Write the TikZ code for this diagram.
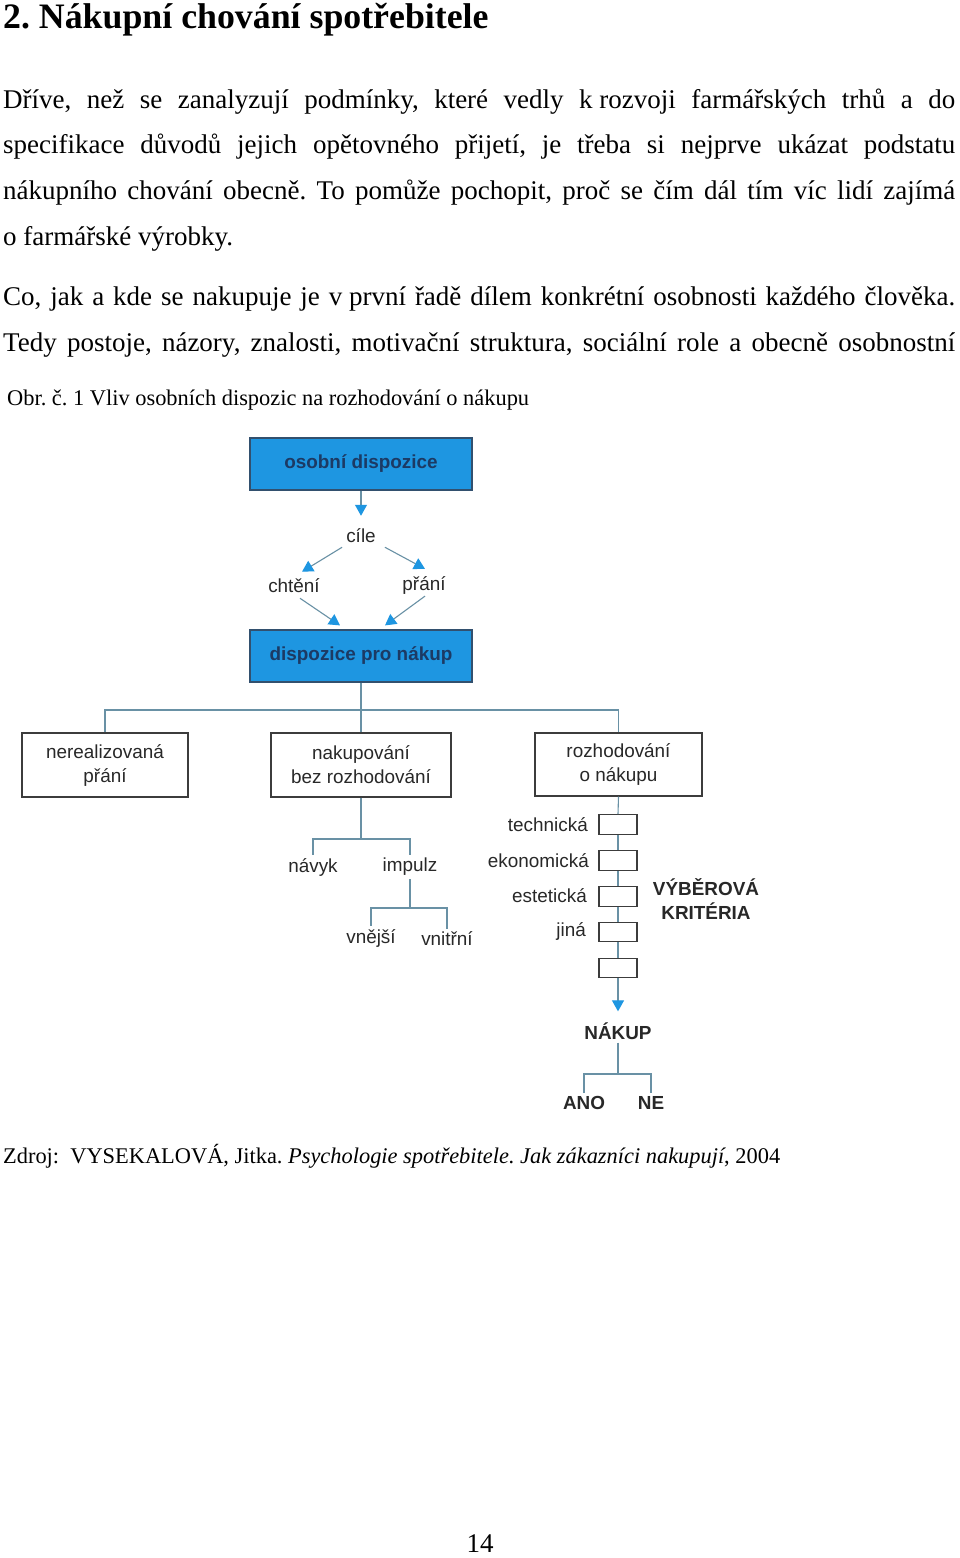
\documentclass[tikz,border=0pt]{standalone}
\usepackage{fontspec}
\setmainfont{Liberation Serif}
\newfontfamily\dg{Liberation Sans}
\usetikzlibrary{arrows.meta,calc}
\definecolor{boxblue}{RGB}{30,150,225}
\definecolor{navytext}{RGB}{28,58,100}
\definecolor{connc}{RGB}{105,145,165}
\definecolor{dtext}{RGB}{40,40,40}
\definecolor{bframe}{RGB}{60,60,60}
\definecolor{bbframe}{RGB}{50,80,110}
\frenchspacing
\begin{document}
\begin{tikzpicture}[x=1pt,y=-1pt,
  txt/.style={anchor=base west,inner sep=0pt,text=black},
  body/.style={txt,font=\fontsize{27}{30}\selectfont},
  small/.style={txt,font=\fontsize{22.4}{26}\selectfont},
  bluebox/.style={draw=bbframe,line width=1.2pt,fill=boxblue,minimum width=222pt,minimum height=52pt,inner sep=0pt,
    font=\dg\bfseries\fontsize{18.9}{22}\selectfont,text=navytext},
  whitebox/.style={draw=bframe,line width=1.2pt,fill=white,minimum height=64pt,inner sep=0pt,align=center,
    font=\dg\fontsize{18.9}{24}\selectfont,text=dtext},
  critbox/.style={draw=bframe,line width=1.2pt,fill=white,minimum width=38pt,minimum height=19.5pt,inner sep=0pt},
  lbl/.style={inner sep=3pt,font=\dg\fontsize{18.9}{22}\selectfont,text=dtext},
  blbl/.style={inner sep=3pt,font=\dg\bfseries\fontsize{18.9}{24}\selectfont,text=dtext,align=center},
  conn/.style={draw=connc,line width=1.1pt},
  arr/.style={-{Triangle[length=11pt,width=12pt,color=boxblue]}},
]
\useasboundingbox[fill=white] (0,0) rectangle (960,1558);

% ---- text of the page ----
\node[txt,font=\fontsize{35.8}{40}\selectfont\bfseries] (title) at (3,28) {2. Nákupní chování spotřebitele};
\node[body] (p1a) at (3,108) {\makebox[952pt][s]{Dříve, než se zanalyzují podmínky, které vedly k\hspace{0.25em}rozvoji farmářských trhů a do}};
\node[body] (p1b) at (3,153.5) {\makebox[952pt][s]{specifikace důvodů jejich opětovného přijetí, je třeba si nejprve ukázat podstatu}};
\node[body] (p1c) at (3,199) {\makebox[952pt][s]{nákupního chování obecně. To pomůže pochopit, proč se čím dál tím víc lidí zajímá}};
\node[body] (p1d) at (3,245) {o\hspace{0.25em}farmářské výrobky.};
\node[body] (p2a) at (3,305) {\makebox[952pt][s]{Co, jak a kde se nakupuje je v\hspace{0.25em}první řadě dílem konkrétní osobnosti každého člověka.}};
\node[body] (p2b) at (3,351) {\makebox[952pt][s]{Tedy postoje, názory, znalosti, motivační struktura, sociální role a obecně osobnostní}};
\node[small] (cap) at (7,405) {Obr. č. 1 Vliv osobních dispozic na rozhodování o nákupu};
\node[small] (src) at (3,1163) {Zdroj:\ \ VYSEKALOVÁ, Jitka. \textit{Psychologie spotřebitele. Jak zákazníci nakupují}, 2004};
\node[body,anchor=base] (pg) at (480,1552) {14};

% ---- diagram ----
\node[bluebox] (od) at (361,464) {osobní dispozice};
\node[lbl] (cile) at (361,536) {cíle};
\node[lbl] (chteni) at (294,586) {chtění};
\node[lbl] (prani) at (424,585) {přání};
\node[bluebox] (dpn) at (361,656) {dispozice pro nákup};

\draw[conn,arr,shorten >=10pt] (od.south) -- (cile.north);
\draw[conn,arr] ($(cile.south west)+(-1,1)$) -- ($(chteni.north)+(8,-4)$);
\draw[conn,arr] ($(cile.south east)+(6,1)$) -- ($(prani.north)+(1,-4)$);
\draw[conn,arr] ($(chteni.south)+(6,2)$) -- ($(dpn.north)+(-21,-4)$);
\draw[conn,arr] ($(prani.south)+(1,-1)$) -- ($(dpn.north)+(24,-4)$);

\node[whitebox,minimum width=166pt] (ner) at (105,765) {nerealizovaná\\přání};
\node[whitebox,minimum width=180pt] (nak) at (361,765) {nakupování\\bez rozhodování};
\node[whitebox,minimum width=167pt,minimum height=63pt] (roz) at (618.5,764.5) {rozhodování\\o nákupu};

\coordinate (j1) at (361,710);
\draw[conn] (dpn.south) -- (j1);
\draw[conn] (ner.north) |- (j1);
\draw[conn] (nak.north) -- (j1);
\draw[conn] (roz.north) |- (j1);

\node[lbl] (navyk) at (313,867) {návyk};
\node[lbl] (impulz) at (410,867) {impulz};
\node[lbl] (vnejsi) at (371,938) {vnější};
\node[lbl] (vnitrni) at (447,939) {vnitřní};
\coordinate (j2) at (361,839);
\draw[conn] (nak.south) -- (j2);
\draw[conn] (navyk.north) |- (j2) -| (impulz.north);
\coordinate (j3) at (410,908);
\draw[conn] (impulz.south) -- (j3);
\draw[conn] (vnejsi.north) |- (j3) -| (vnitrni.north);

% criteria chain
\node[critbox] (k1) at (618,824.5) {};
\node[critbox] (k2) at (618,860.5) {};
\node[critbox] (k3) at (618,896.5) {};
\node[critbox] (k4) at (618,932) {};
\node[critbox] (k5) at (618,968) {};
\node[lbl,anchor=east] (ltech) at (591,825) {technická};
\node[lbl,anchor=east] (lekon) at (592,861) {ekonomická};
\node[lbl,anchor=east] (lest) at (590,896) {estetická};
\node[lbl,anchor=east] (ljina) at (589,931) {jiná};
\node[blbl] (vk) at (706,899) {VÝBĚROVÁ\\KRITÉRIA};
\node[blbl] (nakup) at (618,1031) {NÁKUP};
\node[blbl] (ano) at (584,1103) {ANO};
\node[blbl] (ne) at (651,1103) {NE};

\draw[conn] (roz.south) -- (k1.north);
\draw[conn] (k1.south) -- (k2.north);
\draw[conn] (k2.south) -- (k3.north);
\draw[conn] (k3.south) -- (k4.north);
\draw[conn] (k4.south) -- (k5.north);
\draw[conn,arr,shorten >=8pt] (k5.south) -- (nakup.north);

\coordinate (j4) at (618,1074);
\draw[conn] (nakup.south) -- (j4);
\draw[conn] (ano.north) |- (j4) -| (ne.north);
\end{tikzpicture}
\end{document}
